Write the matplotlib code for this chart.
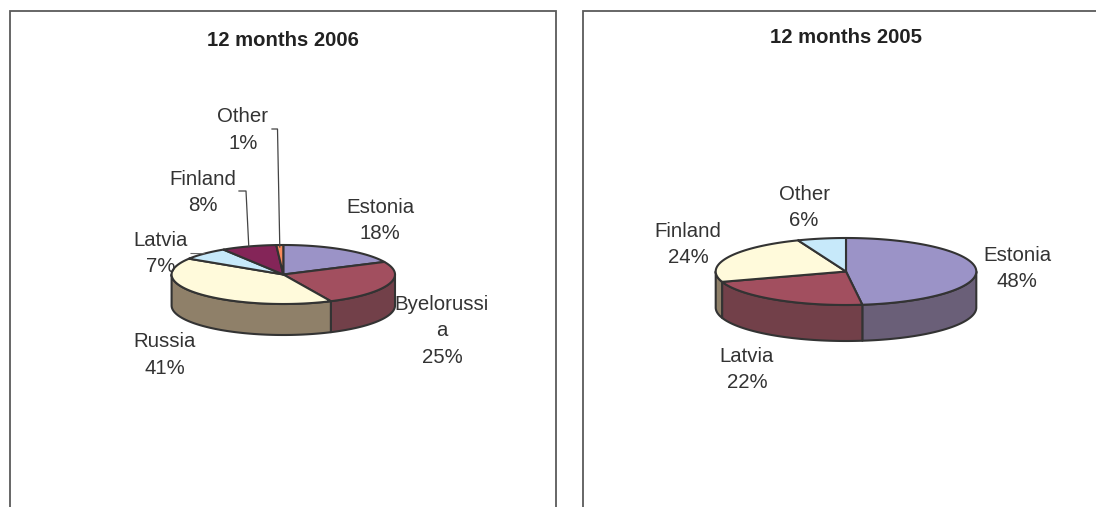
import numpy as np
import matplotlib
matplotlib.use('Agg')
import matplotlib.pyplot as plt
from matplotlib.patches import Polygon

plt.rcParams['font.family'] = ['Liberation Sans', 'DejaVu Sans']

# 12 months 2006
labels_2006 = ['Estonia', 'Byelorussi\na', 'Russia', 'Latvia', 'Finland', 'Other']
values_2006 = [18, 25, 41, 7, 8, 1]

# 12 months 2005
labels_2005 = ['Estonia', 'Latvia', 'Finland', 'Other']
values_2005 = [48, 22, 24, 6]

top_colors_2006 = ['#9b93c7', '#a24f5f', '#fffadb', '#c7e9fa', '#842558', '#f98a5c']
side_colors_2006 = ['#6a5f78', '#724049', '#8f8069', '#8aa3ae', '#5c1a3d', '#ae6040']
top_colors_2005 = ['#9b93c7', '#a24f5f', '#fffadb', '#c7e9fa']
side_colors_2005 = ['#6a5f78', '#724049', '#8f8069', '#8aa3ae']

TEXT = '#333333'
EDGE = '#333333'
FRAME = '#5a5a5a'


def ell(cx, cy, rx, ry, pct):
    # pct runs clockwise from 12 o'clock, 100 = full turn
    a = np.asarray(pct) / 100 * 2 * np.pi
    return cx + rx * np.sin(a), cy - ry * np.cos(a)


def draw_pie(ax, values, tops, sides, cx, cy, rx, ry, depth):
    edges = np.concatenate([[0], np.cumsum(values)])

    # outer wall, only the part facing the viewer (25..75 pct of the turn)
    for i in range(len(values)):
        lo, hi = max(edges[i], 25), min(edges[i + 1], 75)
        if hi <= lo:
            continue
        x, y = ell(cx, cy, rx, ry, np.linspace(lo, hi, 80))
        pts = np.r_[np.c_[x, y], np.c_[x, y + depth][::-1]]
        ax.add_patch(Polygon(pts, closed=True, fc=sides[i], ec=EDGE, lw=1.5,
                             joinstyle='round'))

    # top face
    for i in range(len(values)):
        x, y = ell(cx, cy, rx, ry, np.linspace(edges[i], edges[i + 1], 120))
        pts = np.r_[[[cx, cy]], np.c_[x, y]]
        ax.add_patch(Polygon(pts, closed=True, fc=tops[i], ec=EDGE, lw=1.5,
                             joinstyle='round'))
    return edges


def draw_labels(ax, labels, values, places):
    for name, val, (x, y) in zip(labels, values, places):
        ax.text(x, y, '%s\n%d%%' % (name, val), ha='center', va='center',
                fontsize=14.7, color=TEXT, linespacing=1.48)


def draw_frame(ax, x0, x1, y0, y1):
    ax.plot([x0, x0, x1, x1], [y1, y0, y0, y1], color=FRAME, lw=1.3,
            solid_joinstyle='miter', clip_on=True)


fig = plt.figure(figsize=(10.96, 5.07), dpi=100)
ax = fig.add_axes([0, 0, 1, 1])
ax.set_xlim(0, 1096)
ax.set_ylim(507, 0)
ax.axis('off')

draw_frame(ax, 9.7, 555.5, 10.5, 510)
draw_frame(ax, 582.5, 1100, 10.5, 510)

ax.text(283, 41, '12 months 2006', ha='center', va='center', fontsize=14.6,
        fontweight='bold', color='#222222')
ax.text(846, 37.5, '12 months 2005', ha='center', va='center', fontsize=14.6,
        fontweight='bold', color='#222222')

# left pie
pie1 = (283.3, 274.5, 111.7, 29.5)
edges = draw_pie(ax, values_2006, top_colors_2006, side_colors_2006, *pie1, 31)
draw_labels(ax, labels_2006, values_2006,
            [(380, 220.5), (442, 331), (164.5, 355), (160.5, 253.5), (203, 192.5), (243, 130)])

# leader lines go to the middle of the thin slices
x_f, y_f = ell(*pie1, (edges[4] + edges[5]) / 2)
x_o, y_o = ell(*pie1, (edges[5] + edges[6]) / 2)
x_l, y_l = ell(*pie1, (edges[3] + edges[4]) / 2)
ax.plot([272, 277.5, x_o], [129, 129, y_o + 2], color='#444444', lw=0.9)
ax.plot([239, 246, x_f], [191, 191, y_f], color='#444444', lw=0.9)
ax.plot([191, x_l], [253.5, y_l], color='#666666', lw=0.8)

# right pie
draw_pie(ax, values_2005, top_colors_2005, side_colors_2005, 846, 271.5, 130.3, 33.5, 36)
draw_labels(ax, labels_2005, values_2005,
            [(1017, 268.5), (747, 369.5), (688, 244.5), (804, 207.5)])

fig.savefig('out.png', dpi=100, facecolor='white')
